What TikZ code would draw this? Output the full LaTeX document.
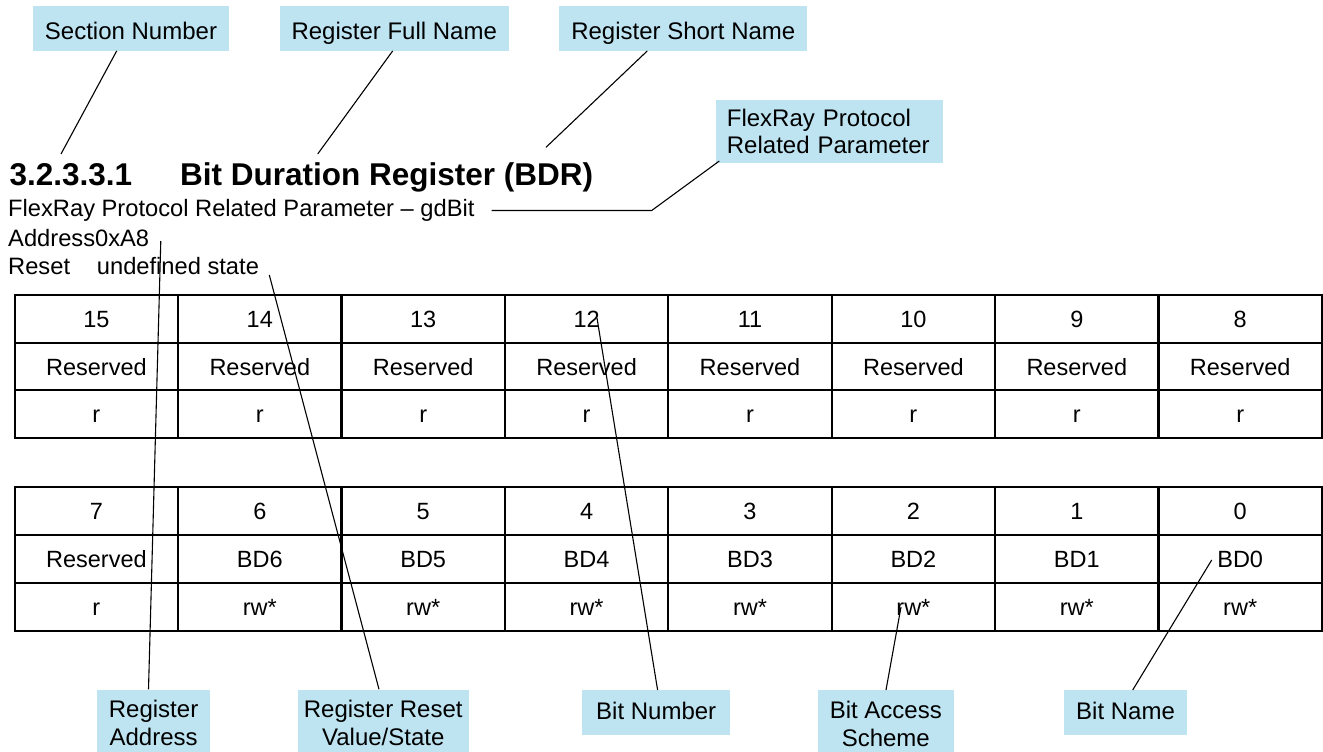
\documentclass[tikz,border=0pt]{standalone}
\usepackage{fontspec}
\setmainfont{Liberation Sans}
\definecolor{callblue}{RGB}{190,228,242}
\begin{document}
\begin{tikzpicture}[x=1pt,y=-1pt,
  callout/.style={fill=callblue, inner xsep=12pt, font=\fontsize{24}{28}\selectfont},
  topbox/.style={callout, text height=22pt, text depth=0.5pt, inner ysep=11.1pt},
  botbox/.style={callout, text height=18pt, text depth=5pt, inner ysep=11pt, anchor=north west},
  botbox2/.style={callout, align=center, inner ysep=11pt, anchor=north west},
  cell/.style={draw, line width=2.2pt, minimum width=163.4pt, inner sep=0pt, text height=17pt, text depth=0pt, font=\fontsize{23.5}{28}\selectfont},
  leader/.style={line width=1.1pt},
  body/.style={anchor=base west, inner sep=0pt, font=\fontsize{23.7}{28}\selectfont},
  heading/.style={anchor=base west, inner sep=0pt, font=\bfseries\fontsize{31.5}{36}\selectfont}
]
\useasboundingbox (0,0) rectangle (1323,752);

% register tables
\foreach \i/\b in {0/15,1/14,2/13,3/12,4/11,5/10,6/9,7/8} {
  \node[cell, minimum height=47.5pt] (na\i) at ({14.7+163.4*(\i+0.5)},319) {\b};
  \node[cell, minimum height=47.5pt] (ra\i) at ({14.7+163.4*(\i+0.5)},366.5) {Reserved};
  \node[cell, minimum height=47.5pt] (aa\i) at ({14.7+163.4*(\i+0.5)},414) {r};
}
\foreach \i/\b/\n/\a in {0/7/Reserved/r,1/6/BD6/rw*,2/5/BD5/rw*,3/4/BD4/rw*,4/3/BD3/rw*,5/2/BD2/rw*,6/1/BD1/rw*,7/0/BD0/rw*} {
  \node[cell, minimum height=48pt] (nb\i) at ({14.7+163.4*(\i+0.5)},510.7) {\b};
  \node[cell, minimum height=48pt] (rb\i) at ({14.7+163.4*(\i+0.5)},558.7) {\n};
  \node[cell, minimum height=48pt] (ab\i) at ({14.7+163.4*(\i+0.5)},606.7) {\a};
}

% heading and register info
\node[heading] (secno) at (9.3,185) {3.2.3.3.1};
\node[heading] (title) at (180,185) {Bit Duration Register (BDR)};
\node[body] (param) at (8,216) {FlexRay Protocol Related Parameter – gdBit};
\node[body] (addr) at (8,246.7) {Address0xA8};
\node[body] (rst) at (8,274) {Reset};
\node[body] (rstval) at (96.7,274) {undefined state};

% callouts
\node[topbox] (csecnum) at (131,28.35) {Section Number};
\node[topbox] (cfull) at (394.2,28.35) {Register Full Name};
\node[topbox] (cshort) at (683.3,28.35) {Register Short Name};
\node[callout, align=left, text width=205pt, inner xsep=10.7pt, inner ysep=9.5pt,
      font=\fontsize{24}{27.3}\selectfont, anchor=north west] (cflex) at (716,99.3)
      {FlexRay Protocol\\Related Parameter};
\node[botbox2] (caddr) at (96.7,689.3) {Register\\Address};
\node[botbox2, inner xsep=6pt] (creset) at (297.7,689.3) {Register Reset\\Value/State};
\node[botbox, minimum width=148pt] (cbitnum) at (582,690) {Bit Number};
\node[botbox2] (cbitacc) at (817.6,690) {Bit Access\\Scheme};
\node[botbox] (cbitname) at (1064,690) {Bit Name};

% leader lines
\coordinate (esecnum) at (61,154);
\coordinate (efull) at (317.7,154);
\coordinate (eshort) at (546,147.3);
\coordinate (flexbend) at (651.7,210.5);
\coordinate (eflex) at (491.7,210.5);
\coordinate (eaddr) at (160.8,241);
\coordinate (ereset) at (269.3,275);
\coordinate (ebitnum) at (597,318);
\coordinate (ebitacc) at (901,607);
\coordinate (ebitname) at (1211.7,560);

\draw[leader] ([xshift=-14.3pt]csecnum.south) -- (esecnum);
\draw[leader] ([xshift=-1.5pt]cfull.south) -- (efull);
\draw[leader] ([xshift=-36pt]cshort.south) -- (eshort);
\draw[leader] ([xshift=3.3pt,yshift=2.6pt]cflex.south west) -- (flexbend) -- (eflex);
\draw[leader] ([xshift=51.8pt]caddr.north west) -- (eaddr);
\draw[leader] ([xshift=81.3pt]creset.north west) -- (ereset);
\draw[leader] ([xshift=75.6pt]cbitnum.north west) -- (ebitnum);
\draw[leader] ([xshift=68.4pt]cbitacc.north west) -- (ebitacc);
\draw[leader] ([xshift=68.7pt]cbitname.north west) -- (ebitname);
\end{tikzpicture}
\end{document}
